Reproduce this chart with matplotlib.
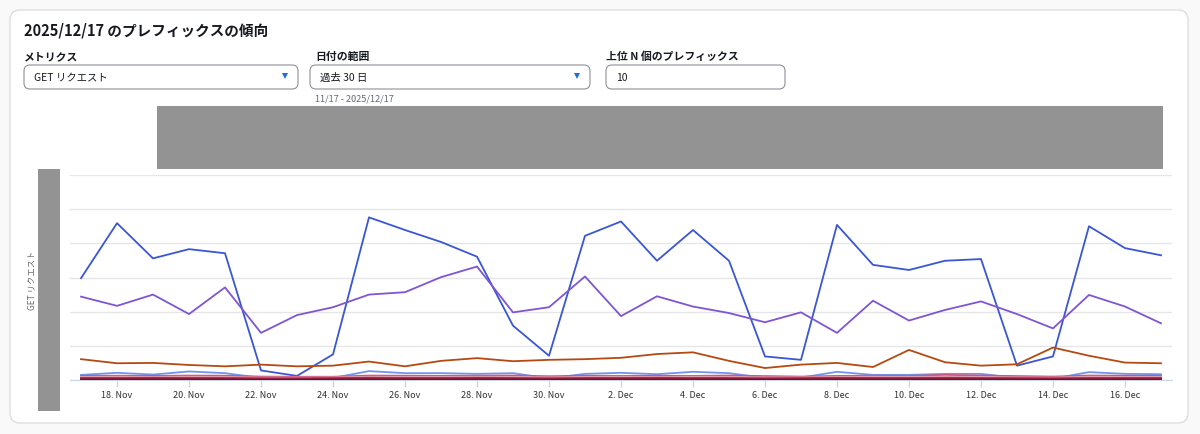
import matplotlib
matplotlib.use("Agg")
import matplotlib.pyplot as plt
from matplotlib.patches import FancyBboxPatch, Rectangle

plt.rcParams['font.family'] = ['Noto Sans CJK JP', 'DejaVu Sans']

# === Data (GET requests per day, top 10 prefixes) ===
days = list(range(31))  # 17 Nov .. 17 Dec
tick_days = list(range(1, 30, 2))
tick_labels = ["18. Nov", "20. Nov", "22. Nov", "24. Nov", "26. Nov", "28. Nov",
               "30. Nov", "2. Dec", "4. Dec", "6. Dec", "8. Dec", "10. Dec",
               "12. Dec", "14. Dec", "16. Dec"]

prefix_a = [2980, 4590, 3560, 3830, 3710, 280, 120, 750, 4760, 4390, 4040,
            3610, 1590, 710, 4220, 4640, 3490, 4390, 3490, 690, 590, 4540,
            3370, 3220, 3490, 3540, 420, 690, 4500, 3860, 3650]
prefix_b = [2440, 2170, 2500, 1930, 2710, 1380, 1900, 2130, 2500, 2570, 3010,
            3320, 1980, 2130, 3030, 1870, 2450, 2150, 1960, 1690, 1980, 1380,
            2320, 1740, 2050, 2300, 1930, 1510, 2490, 2150, 1660]
prefix_c = [610, 490, 500, 440, 400, 450, 400, 420, 540, 400, 560,
            640, 550, 590, 610, 650, 760, 810, 560, 350, 450, 500,
            380, 880, 520, 420, 460, 950, 710, 510, 490]
prefix_d = [150, 210, 160, 250, 200, 60, 60, 60, 260, 200, 200,
            180, 200, 50, 180, 210, 170, 240, 200, 60, 70, 240,
            150, 150, 180, 180, 60, 40, 230, 180, 170]
prefix_e = [120, 125, 120, 130, 125, 100, 95, 95, 130, 125, 120,
            125, 130, 110, 125, 120, 125, 120, 130, 115, 100, 120,
            125, 115, 150, 130, 115, 100, 130, 125, 120]
prefix_f = [90, 95, 90, 95, 90, 70, 70, 75, 95, 90, 90,
            95, 90, 75, 90, 95, 90, 95, 90, 75, 75, 90,
            95, 90, 95, 90, 75, 70, 95, 90, 90]
prefix_g = [60, 60, 65, 60, 60, 50, 50, 55, 65, 60, 60,
            65, 60, 50, 60, 60, 65, 60, 60, 50, 55, 65,
            60, 60, 65, 60, 55, 50, 60, 60, 60]
prefix_h = [40, 40, 45, 40, 40, 35, 35, 40, 45, 40, 40,
            45, 40, 35, 40, 40, 45, 40, 40, 35, 40, 45,
            40, 40, 45, 40, 40, 35, 40, 40, 40]
prefix_i = [20, 20, 25, 20, 20, 15, 15, 20, 25, 20, 20,
            25, 20, 15, 20, 20, 25, 20, 20, 15, 20, 25,
            20, 20, 25, 20, 20, 15, 20, 20, 20]
prefix_j = [10, 10, 12, 10, 10, 8, 8, 10, 12, 10, 10,
            12, 10, 8, 10, 10, 12, 10, 10, 8, 10, 12,
            10, 10, 12, 10, 10, 8, 10, 10, 10]

series = [prefix_a, prefix_b, prefix_c, prefix_d, prefix_e,
          prefix_f, prefix_g, prefix_h, prefix_i, prefix_j]
colors = ['#3a56d4', '#7e55d4', '#b54a10', '#7094ee', '#d0567a',
          '#e39bb0', '#b8325a', '#8f1d3f', '#a3213b', '#6e1431']

W, H = 1200, 435
fig = plt.figure(figsize=(W / 100, H / 100), dpi=100)
fig.patch.set_facecolor('#f9f9f9')

# === Page overlay in pixel coords ===
bg = fig.add_axes([0, 0, 1, 1], zorder=0)
bg.set_xlim(0, W)
bg.set_ylim(H, 0)
bg.axis('off')

bg.add_patch(FancyBboxPatch((10, 11), 1178, 413, boxstyle="round,pad=0,rounding_size=10",
                            facecolor='white', edgecolor='#dedede', linewidth=1))

bg.text(24, 30, "2025/12/17 のプレフィックスの傾向", fontsize=10.5, fontweight='bold',
        color='#16191f', va='center', ha='left')

for x, label in [(24, "メトリクス"), (315, "日付の範囲"), (606, "上位 N 個のプレフィックス")]:
    bg.text(x, 57, label, fontsize=7.8, fontweight='bold', color='#16191f',
            va='center', ha='left')

for x0, x1, txt, tri in [(24, 298, "GET リクエスト", True),
                         (310, 590, "過去 30 日", True),
                         (606, 785, "10", False)]:
    bg.add_patch(FancyBboxPatch((x0, 66), x1 - x0, 24, boxstyle="round,pad=0,rounding_size=6",
                                facecolor='white', edgecolor='#8d9099', linewidth=0.8))
    bg.text(x0 + 10, 78, txt, fontsize=7.5, color='#16191f', va='center', ha='left')
    if tri:
        bg.plot(x1 - 13, 77, marker='v', markersize=5, color='#1f6fd6', markeredgewidth=0)

bg.text(315, 99, "11/17 - 2025/12/17", fontsize=6.6, color='#5f6b7a', va='center', ha='left')

# redacted blocks
bg.add_patch(Rectangle((157, 107), 1006, 63, facecolor='#939393', edgecolor='none'))
bg.add_patch(Rectangle((38, 170), 22, 242, facecolor='#939393', edgecolor='none'))

bg.text(32, 280, "GET リクエスト", fontsize=6, color='#666666', rotation=90,
        va='center', ha='center')

# === Chart ===
ax = fig.add_axes([70 / W, 1 - 381 / H, 1102 / W, 205 / H], zorder=1)
ax.patch.set_alpha(0)
for s, c in zip(series, colors):
    ax.plot(days, s, color=c, linewidth=1.3)

ax.set_xlim(-0.306, 30.306)
ax.set_ylim(0, 6000)
ax.set_yticks(range(0, 7000, 1000))
ax.set_yticklabels([])
ax.tick_params(axis='y', length=0)
ax.yaxis.grid(True, color='#e6e6e6', linewidth=1)
ax.set_axisbelow(True)
ax.set_xticks(tick_days)
ax.set_xticklabels(tick_labels)
ax.tick_params(axis='x', length=5, width=1, color='#ccd6eb', labelsize=6.5,
               labelcolor='#333333', pad=2)
for side in ['top', 'right', 'left']:
    ax.spines[side].set_visible(False)
ax.spines['bottom'].set_color('#ccd6eb')
ax.spines['bottom'].set_zorder(0.5)

fig.savefig("out.png", dpi=100, facecolor=fig.get_facecolor())
